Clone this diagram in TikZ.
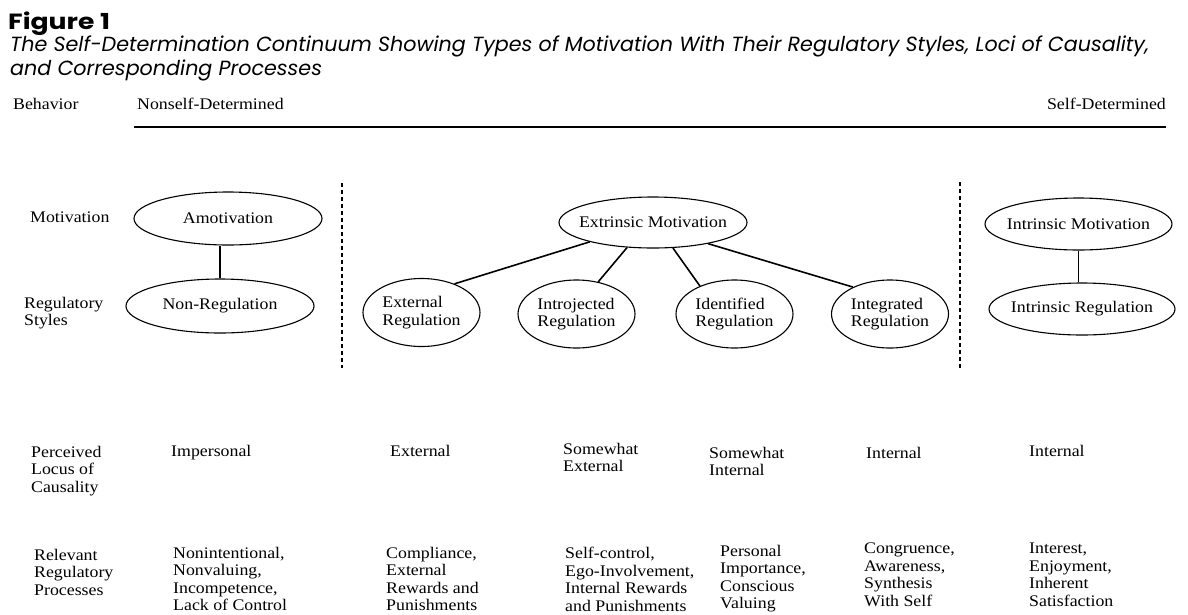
\documentclass[tikz,border=0pt]{standalone}
\usepackage{fontspec}
\setmainfont{Liberation Serif}[FakeStretch=1.1]
\newfontfamily\futura{Poppins}
\usetikzlibrary{shapes.geometric}
\begin{document}
\begin{tikzpicture}[x=1pt,y=-1pt,
  txt/.style={inner sep=0pt, align=left, font=\fontsize{16.2}{17.5}\selectfont},
  lbl/.style={txt, anchor=base west},
  blk/.style={txt, anchor=north west},
  ell/.style={draw, ellipse, inner sep=0pt, line width=1.1pt, align=left, font=\fontsize{16.2}{17.5}\selectfont},
  wide/.style={ell, inner xsep=-15pt, minimum width=188pt, minimum height=53pt},
  small/.style={ell, minimum width=117pt, minimum height=68pt},
  link/.style={line width=1.6pt},
  vlink/.style={line width=1.1pt},
  divider/.style={line width=1.3pt, dash pattern=on 4pt off 3pt},
  rule/.style={line width=1.4pt}]
\useasboundingbox (0,0) rectangle (1188,614);
\fill[white] (0,0) rectangle (1188,614);

% title
\node[inner sep=0pt, anchor=base west] (fig) at (8,29)
  {\resizebox{102pt}{\height}{\futura\bfseries\fontsize{22}{22}\selectfont Figure 1}};
\node[inner sep=0pt, anchor=base west] (sub) at (10,51)
  {\resizebox{1139pt}{\height}{\futura\itshape\fontsize{20.5}{24}\selectfont
   \begin{tabular}[t]{@{}l@{}}The Self-Determination Continuum Showing Types of Motivation With Their Regulatory Styles, Loci of Causality,\\
   and Corresponding Processes\end{tabular}}};

% behavior axis
\node[lbl] (beh) at (13,109) {Behavior};
\node[lbl] (nsd) at (137,109) {Nonself-Determined};
\node[txt, anchor=base east] (sd) at (1166,109) {Self-Determined};
\coordinate (rl) at (134,127);
\coordinate (rr) at (1166,127);
\draw[rule] (rl) -- (rr);

% row labels
\node[lbl] (motlbl) at (30,222) {Motivation};
\node[blk] (reglbl) at (24,297) {Regulatory\\Styles};

% ellipses
\node[wide] (amot) at (228,218.5) {Amotivation};
\node[wide, minimum height=54pt] (nonreg) at (220,306) {Non-Regulation};
\draw[vlink] (nonreg.north) -- (nonreg.north |- amot.south);

\node[wide, minimum height=51pt] (extr) at (653,222.5) {Extrinsic Motivation};
\node[small] (extreg) at (421.5,312.5) {External\\Regulation};
\node[small] (introj) at (576.5,314) {Introjected\\Regulation};
\node[small] (ident) at (734.5,314) {Identified\\Regulation};
\node[small] (integ) at (890,314) {Integrated\\Regulation};
\draw[link] (extr.197) -- (extreg.41);
\draw[link] (extr.224) -- (introj.56);
\draw[link] (extr.308) -- (ident.141);
\draw[link] (extr.339) -- (integ.144);

\node[wide, minimum width=187pt, minimum height=52pt] (intmot) at (1078.5,224) {Intrinsic Motivation};
\node[wide, minimum width=186pt, minimum height=52pt] (intreg) at (1082,309) {Intrinsic Regulation};
\draw[vlink] (intmot.south) -- (intmot.south |- intreg.north);

% dividers
\coordinate (d1t) at (342,183);
\coordinate (d1b) at (342,368);
\coordinate (d2t) at (960,182);
\coordinate (d2b) at (960,370);
\draw[divider] (d1t) -- (d1b);
\draw[divider] (d2t) -- (d2b);

% perceived locus of causality
\node[blk] (plbl) at (31,446) {Perceived\\Locus of\\Causality};
\node[lbl] (p1) at (171,456) {Impersonal};
\node[lbl] (p2) at (390,456) {External};
\node[blk] (p3) at (563,443) {Somewhat\\External};
\node[blk] (p4) at (709,447) {Somewhat\\Internal};
\node[lbl] (p5) at (866,458) {Internal};
\node[lbl] (p6) at (1029,456) {Internal};

% relevant regulatory processes
\node[blk] (rlbl) at (34,549) {Relevant\\Regulatory\\Processes};
\node[blk] (r1) at (173,547) {Nonintentional,\\Nonvaluing,\\Incompetence,\\Lack of Control};
\node[blk] (r2) at (386,547) {Compliance,\\External\\Rewards and\\Punishments};
\node[blk] (r3) at (565,547) {Self-control,\\Ego-Involvement,\\Internal Rewards\\and Punishments};
\node[blk] (r4) at (720,545) {Personal\\Importance,\\Conscious\\Valuing};
\node[blk] (r5) at (864,543) {Congruence,\\Awareness,\\Synthesis\\With Self};
\node[blk] (r6) at (1029,543) {Interest,\\Enjoyment,\\Inherent\\Satisfaction};
\end{tikzpicture}
\end{document}
